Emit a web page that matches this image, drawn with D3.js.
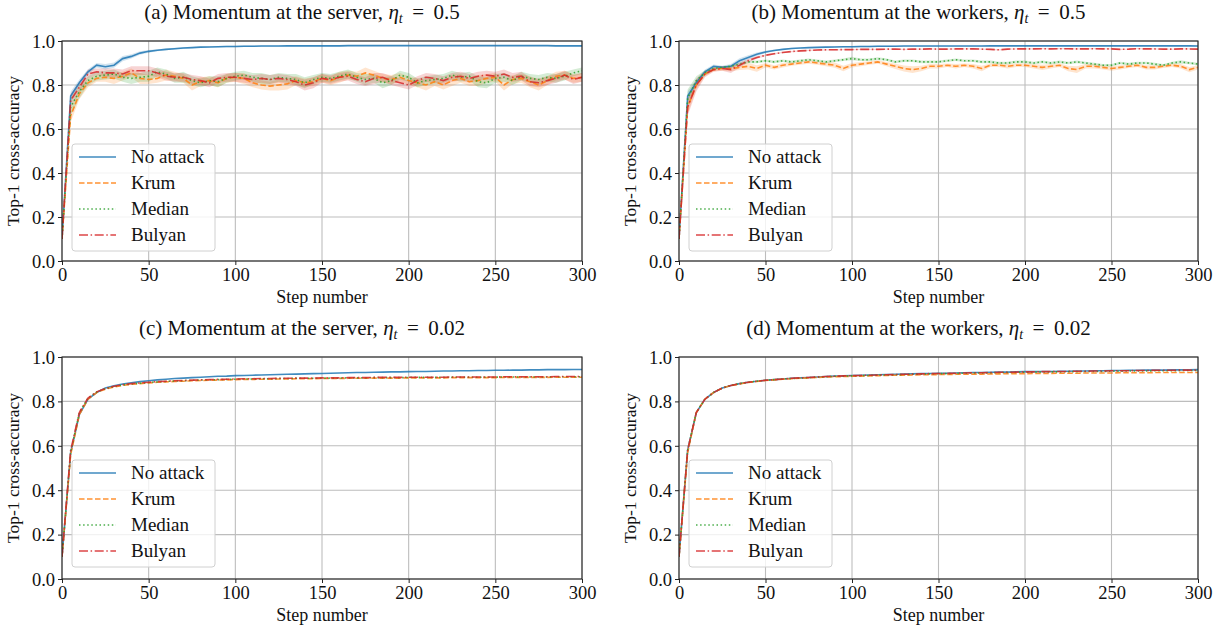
<!DOCTYPE html>
<html><head><meta charset="utf-8">
<script src="https://cdn.jsdelivr.net/npm/d3@7"></script>
<style>
body{margin:0;background:#fff;}
svg{display:block;}
text{font-family:"Liberation Serif","Times New Roman",serif;fill:#111;}
</style></head>
<body><svg id="chart" width="1213" height="625"></svg>
<script>
// ---------------- DATA ----------------
const steps = [0,5,10,15,20,25,30,35,40,45,50,55,60,65,70,75,80,85,90,95,100,105,110,115,120,125,130,135,140,145,150,155,160,165,170,175,180,185,190,195,200,205,210,215,220,225,230,235,240,245,250,255,260,265,270,275,280,285,290,295,300];
const seriesNames = ["No attack","Krum","Median","Bulyan"];
const panelTitles = ["(a) Momentum at the server, ","(b) Momentum at the workers, ","(c) Momentum at the server, ","(d) Momentum at the workers, "];
const panelEta = ["0.5","0.5","0.02","0.02"];
const xTicks = [0,50,100,150,200,250,300];
const yTicks = [0.0,0.2,0.4,0.6,0.8,1.0];

// Panel (a)
const noneA = [0.10,0.75,0.81,0.86,0.89,0.883,0.89,0.92,0.93,0.945,
 0.953,0.958,0.962,0.965,0.968,0.97,0.972,0.973,0.974,0.975,
 0.975,0.976,0.976,0.977,0.977,0.977,0.978,0.978,0.978,0.978,
 0.978,0.978,0.978,0.979,0.979,0.979,0.979,0.979,0.979,0.979,
 0.979,0.979,0.979,0.979,0.979,0.979,0.979,0.979,0.979,0.979,
 0.979,0.979,0.979,0.979,0.979,0.979,0.979,0.978,0.978,0.978,
 0.978];
const noneAStd = [0,0.02,0.015,0.012,0.01,0.012,0.012,0.012,0.01,0.008,
 0.006,0.005,0.004,0.004,0.004,0.003,0.003,0.003,0.003,0.003,
 0.003,0.003,0.003,0.003,0.003,0.003,0.003,0.003,0.003,0.003,
 0.003,0.003,0.003,0.003,0.003,0.003,0.003,0.003,0.003,0.003,
 0.003,0.003,0.003,0.003,0.003,0.003,0.003,0.003,0.003,0.003,
 0.003,0.003,0.003,0.003,0.003,0.003,0.003,0.003,0.003,0.003,
 0.003];
const krumA = [0.10,0.66,0.76,0.81,0.83,0.835,0.83,0.84,0.855,0.83,
 0.825,0.83,0.845,0.84,0.83,0.80,0.815,0.82,0.81,0.83,
 0.835,0.83,0.81,0.80,0.795,0.80,0.805,0.82,0.81,0.815,
 0.83,0.82,0.835,0.845,0.84,0.855,0.845,0.83,0.825,0.835,
 0.82,0.81,0.80,0.815,0.80,0.82,0.83,0.815,0.82,0.83,
 0.835,0.80,0.825,0.83,0.815,0.80,0.82,0.84,0.845,0.83,
 0.835];
const krumAStd = [0,0.03,0.025,0.02,0.015,0.02,0.025,0.02,0.02,0.025,
 0.02,0.02,0.025,0.02,0.02,0.025,0.02,0.02,0.02,0.02,
 0.02,0.025,0.02,0.02,0.02,0.025,0.025,0.02,0.02,0.02,
 0.02,0.02,0.025,0.02,0.02,0.025,0.02,0.02,0.02,0.02,
 0.02,0.02,0.025,0.02,0.02,0.025,0.02,0.02,0.025,0.02,
 0.02,0.025,0.02,0.02,0.025,0.025,0.02,0.02,0.02,0.02,
 0.02];
const medianA = [0.10,0.70,0.77,0.82,0.84,0.845,0.85,0.835,0.83,0.835,
 0.84,0.86,0.85,0.83,0.835,0.82,0.81,0.82,0.815,0.83,
 0.84,0.845,0.835,0.83,0.825,0.835,0.83,0.825,0.81,0.825,
 0.835,0.83,0.84,0.85,0.835,0.825,0.83,0.81,0.82,0.845,
 0.835,0.81,0.82,0.825,0.83,0.845,0.835,0.84,0.815,0.81,
 0.83,0.835,0.82,0.84,0.83,0.825,0.835,0.83,0.84,0.855,
 0.865];
const medianAStd = [0,0.04,0.03,0.02,0.02,0.02,0.02,0.02,0.025,0.02,
 0.025,0.02,0.02,0.02,0.025,0.02,0.02,0.02,0.025,0.02,
 0.02,0.02,0.02,0.025,0.02,0.02,0.02,0.025,0.025,0.02,
 0.02,0.02,0.02,0.02,0.02,0.025,0.02,0.025,0.02,0.02,
 0.02,0.02,0.02,0.02,0.02,0.02,0.02,0.02,0.025,0.025,
 0.02,0.02,0.02,0.02,0.02,0.02,0.02,0.02,0.02,0.015,
 0.015];
const bulyanA = [0.10,0.73,0.79,0.85,0.86,0.855,0.855,0.85,0.865,0.865,
 0.865,0.855,0.84,0.835,0.835,0.825,0.82,0.81,0.83,0.835,
 0.835,0.83,0.825,0.83,0.825,0.83,0.825,0.815,0.80,0.81,
 0.83,0.825,0.835,0.84,0.825,0.815,0.83,0.835,0.82,0.81,
 0.80,0.82,0.835,0.83,0.82,0.835,0.84,0.83,0.84,0.845,
 0.84,0.85,0.835,0.84,0.815,0.81,0.82,0.83,0.845,0.825,
 0.835];
const bulyanAStd = [0,0.03,0.025,0.02,0.015,0.02,0.02,0.02,0.02,0.02,
 0.02,0.02,0.02,0.02,0.02,0.02,0.02,0.02,0.02,0.02,
 0.02,0.02,0.02,0.02,0.02,0.02,0.02,0.02,0.025,0.025,
 0.02,0.02,0.02,0.02,0.02,0.02,0.025,0.02,0.02,0.02,
 0.02,0.02,0.02,0.02,0.02,0.02,0.02,0.02,0.02,0.02,
 0.02,0.02,0.02,0.02,0.02,0.02,0.02,0.02,0.02,0.02,
 0.02];

// Panel (b)
const noneB = [0.10,0.75,0.81,0.86,0.885,0.88,0.885,0.91,0.925,0.94,
 0.95,0.957,0.962,0.966,0.968,0.97,0.971,0.972,0.973,0.974,
 0.974,0.975,0.975,0.976,0.976,0.976,0.977,0.977,0.977,0.977,
 0.977,0.977,0.977,0.977,0.977,0.977,0.978,0.978,0.978,0.978,
 0.978,0.978,0.978,0.978,0.978,0.978,0.978,0.978,0.978,0.978,
 0.978,0.978,0.978,0.978,0.978,0.978,0.978,0.978,0.978,0.978,
 0.977];
const noneBStd = [0,0.02,0.015,0.01,0.008,0.008,0.01,0.012,0.01,0.008,
 0.006,0.004,0.003,0.003,0.003,0.003,0.003,0.003,0.003,0.003,
 0.003,0.003,0.003,0.003,0.003,0.003,0.003,0.003,0.003,0.003,
 0.003,0.003,0.003,0.003,0.003,0.003,0.003,0.003,0.003,0.003,
 0.003,0.003,0.003,0.003,0.003,0.003,0.003,0.003,0.003,0.003,
 0.003,0.003,0.003,0.003,0.003,0.003,0.003,0.003,0.003,0.003,
 0.003];
const krumB = [0.10,0.70,0.80,0.85,0.87,0.875,0.875,0.88,0.885,0.875,
 0.89,0.88,0.89,0.895,0.90,0.905,0.90,0.895,0.89,0.875,
 0.89,0.895,0.90,0.905,0.895,0.885,0.875,0.87,0.875,0.885,
 0.885,0.89,0.885,0.89,0.885,0.875,0.89,0.89,0.885,0.89,
 0.89,0.885,0.88,0.885,0.89,0.875,0.87,0.885,0.885,0.88,
 0.875,0.88,0.885,0.89,0.88,0.88,0.885,0.89,0.885,0.87,
 0.88];
const krumBStd = [0,0.03,0.02,0.01,0.008,0.01,0.012,0.012,0.015,0.015,
 0.01,0.01,0.01,0.008,0.008,0.008,0.008,0.01,0.012,0.012,
 0.01,0.01,0.008,0.008,0.01,0.012,0.014,0.015,0.012,0.01,
 0.01,0.008,0.01,0.008,0.01,0.012,0.008,0.008,0.01,0.008,
 0.008,0.01,0.012,0.01,0.008,0.012,0.015,0.01,0.01,0.01,
 0.01,0.01,0.008,0.008,0.01,0.01,0.008,0.008,0.01,0.012,
 0.01];
const medianB = [0.10,0.74,0.82,0.855,0.875,0.88,0.885,0.895,0.905,0.905,
 0.91,0.905,0.91,0.905,0.91,0.915,0.91,0.905,0.91,0.915,
 0.92,0.915,0.915,0.92,0.915,0.905,0.91,0.91,0.905,0.905,
 0.905,0.91,0.915,0.91,0.91,0.905,0.905,0.90,0.90,0.905,
 0.905,0.90,0.905,0.90,0.905,0.90,0.905,0.90,0.895,0.89,
 0.89,0.90,0.895,0.90,0.90,0.895,0.89,0.90,0.905,0.90,
 0.895];
const medianBStd = [0,0.04,0.02,0.012,0.008,0.006,0.006,0.006,0.006,0.006,
 0.006,0.006,0.006,0.006,0.006,0.006,0.006,0.006,0.006,0.006,
 0.008,0.006,0.006,0.006,0.006,0.006,0.006,0.006,0.006,0.006,
 0.006,0.006,0.006,0.006,0.006,0.006,0.006,0.006,0.006,0.006,
 0.006,0.006,0.006,0.006,0.006,0.006,0.006,0.006,0.006,0.006,
 0.006,0.006,0.006,0.006,0.006,0.006,0.006,0.006,0.008,0.006,
 0.006];
const bulyanB = [0.10,0.70,0.80,0.85,0.87,0.875,0.87,0.89,0.91,0.925,
 0.935,0.942,0.948,0.952,0.955,0.957,0.959,0.96,0.96,0.961,
 0.961,0.962,0.962,0.962,0.963,0.963,0.962,0.963,0.963,0.964,
 0.963,0.963,0.964,0.964,0.964,0.963,0.962,0.96,0.963,0.964,
 0.964,0.964,0.965,0.964,0.965,0.965,0.964,0.964,0.965,0.964,
 0.964,0.962,0.963,0.965,0.964,0.964,0.963,0.963,0.964,0.964,
 0.963];
const bulyanBStd = [0,0.04,0.03,0.015,0.01,0.01,0.015,0.012,0.008,0.006,
 0.004,0.003,0.003,0.003,0.003,0.003,0.003,0.003,0.003,0.003,
 0.003,0.003,0.003,0.003,0.003,0.003,0.003,0.003,0.003,0.003,
 0.003,0.003,0.003,0.003,0.003,0.003,0.003,0.003,0.003,0.003,
 0.003,0.003,0.003,0.003,0.003,0.003,0.003,0.003,0.003,0.003,
 0.003,0.003,0.003,0.003,0.003,0.003,0.003,0.003,0.003,0.003,
 0.003];

// Panel (c)
const noneC = [0.10,0.57,0.74,0.81,0.84,0.86,0.87,0.878,0.884,0.889,
 0.893,0.897,0.90,0.903,0.905,0.907,0.909,0.911,0.913,0.914,
 0.916,0.917,0.918,0.919,0.92,0.921,0.922,0.923,0.924,0.925,
 0.926,0.927,0.928,0.929,0.93,0.93,0.931,0.932,0.933,0.933,
 0.934,0.935,0.935,0.936,0.937,0.937,0.938,0.938,0.939,0.939,
 0.94,0.94,0.941,0.941,0.942,0.942,0.943,0.943,0.943,0.944,
 0.944];
const krumC = [0.10,0.56,0.74,0.81,0.84,0.855,0.865,0.872,0.877,0.88,
 0.883,0.886,0.888,0.89,0.891,0.893,0.894,0.895,0.896,0.897,
 0.898,0.899,0.899,0.90,0.90,0.901,0.901,0.902,0.902,0.902,
 0.903,0.903,0.903,0.904,0.904,0.904,0.905,0.905,0.905,0.905,
 0.906,0.906,0.906,0.906,0.906,0.907,0.907,0.907,0.907,0.907,
 0.907,0.908,0.908,0.908,0.908,0.908,0.908,0.909,0.909,0.909,
 0.909];
const medianC = [0.10,0.57,0.75,0.815,0.842,0.857,0.867,0.874,0.879,0.882,
 0.885,0.888,0.89,0.892,0.893,0.895,0.896,0.897,0.898,0.899,
 0.90,0.901,0.901,0.902,0.902,0.903,0.903,0.904,0.904,0.904,
 0.905,0.905,0.905,0.906,0.906,0.906,0.907,0.907,0.907,0.907,
 0.908,0.908,0.908,0.908,0.908,0.909,0.909,0.909,0.909,0.909,
 0.909,0.91,0.91,0.91,0.91,0.91,0.91,0.911,0.911,0.911,
 0.911];
const bulyanC = [0.10,0.58,0.75,0.815,0.843,0.858,0.868,0.875,0.88,0.883,
 0.886,0.889,0.891,0.893,0.894,0.896,0.897,0.898,0.899,0.90,
 0.901,0.902,0.902,0.903,0.903,0.904,0.904,0.905,0.905,0.905,
 0.906,0.906,0.906,0.907,0.907,0.907,0.908,0.908,0.908,0.908,
 0.909,0.909,0.909,0.909,0.909,0.91,0.91,0.91,0.91,0.91,
 0.91,0.911,0.911,0.911,0.911,0.911,0.911,0.912,0.912,0.912,
 0.912];

// Panel (d)
const noneD = [0.10,0.58,0.75,0.81,0.84,0.86,0.872,0.88,0.886,0.891,
 0.895,0.898,0.901,0.904,0.906,0.908,0.91,0.912,0.914,0.915,
 0.917,0.918,0.919,0.92,0.921,0.922,0.923,0.924,0.925,0.926,
 0.927,0.927,0.928,0.929,0.93,0.93,0.931,0.932,0.932,0.933,
 0.934,0.934,0.935,0.935,0.936,0.936,0.937,0.937,0.938,0.938,
 0.939,0.939,0.94,0.94,0.941,0.941,0.941,0.942,0.942,0.942,
 0.943];
const krumD = [0.10,0.57,0.75,0.81,0.84,0.86,0.871,0.879,0.885,0.89,
 0.894,0.897,0.90,0.902,0.904,0.906,0.908,0.91,0.911,0.912,
 0.913,0.914,0.915,0.916,0.917,0.918,0.918,0.919,0.92,0.92,
 0.921,0.921,0.922,0.922,0.923,0.923,0.924,0.924,0.925,0.925,
 0.925,0.926,0.926,0.926,0.927,0.927,0.927,0.928,0.928,0.928,
 0.928,0.929,0.929,0.929,0.929,0.93,0.93,0.93,0.93,0.93,
 0.93];
const medianD = [0.10,0.58,0.75,0.81,0.84,0.86,0.872,0.88,0.886,0.891,
 0.895,0.898,0.901,0.903,0.905,0.907,0.909,0.911,0.913,0.914,
 0.915,0.916,0.917,0.918,0.919,0.92,0.921,0.922,0.923,0.924,
 0.925,0.925,0.926,0.927,0.928,0.928,0.929,0.93,0.93,0.931,
 0.931,0.932,0.932,0.933,0.933,0.934,0.934,0.935,0.935,0.935,
 0.936,0.936,0.937,0.937,0.937,0.938,0.938,0.938,0.939,0.939,
 0.939];
const bulyanD = [0.10,0.58,0.75,0.81,0.84,0.86,0.872,0.88,0.886,0.891,
 0.895,0.898,0.901,0.904,0.906,0.908,0.91,0.912,0.913,0.915,
 0.916,0.917,0.918,0.919,0.92,0.921,0.922,0.923,0.924,0.925,
 0.926,0.926,0.927,0.928,0.929,0.929,0.93,0.931,0.931,0.932,
 0.933,0.933,0.934,0.934,0.935,0.935,0.936,0.936,0.937,0.937,
 0.938,0.938,0.938,0.939,0.939,0.94,0.94,0.94,0.941,0.941,
 0.941];

// ---------------- CHART ----------------
const colors = ["#1f77b4","#ff7f0e","#2ca02c","#d62728"];
const dashes = [null,"5.5,2.5","1.5,2.6","9,2.6,1.5,2.6"];

const panels = [
  {title:panelTitles[0], eta:panelEta[0], x0:62, x1:582, y0:41, y1:261,
   series:[[noneA,noneAStd],[krumA,krumAStd],[medianA,medianAStd],[bulyanA,bulyanAStd]]},
  {title:panelTitles[1], eta:panelEta[1], x0:679, x1:1198, y0:41, y1:261,
   series:[[noneB,noneBStd],[krumB,krumBStd],[medianB,medianBStd],[bulyanB,bulyanBStd]]},
  {title:panelTitles[2], eta:panelEta[2], x0:62, x1:582, y0:357, y1:579,
   series:[[noneC,null],[krumC,null],[medianC,null],[bulyanC,null]]},
  {title:panelTitles[3], eta:panelEta[3], x0:679, x1:1198, y0:357, y1:579,
   series:[[noneD,null],[krumD,null],[medianD,null],[bulyanD,null]]}
];

const svg = d3.select("#chart");

panels.forEach((p, pi) => {
  const x = d3.scaleLinear().domain([0,300]).range([p.x0,p.x1]);
  const y = d3.scaleLinear().domain([0,1]).range([p.y1,p.y0]);
  const g = svg.append("g");
  const clipId = "clip" + pi;
  svg.append("clipPath").attr("id", clipId).append("rect")
    .attr("x", p.x0).attr("y", p.y0).attr("width", p.x1-p.x0).attr("height", p.y1-p.y0);

  // grid
  g.append("g").selectAll("line").data(xTicks).join("line")
    .attr("x1", d=>x(d)).attr("x2", d=>x(d)).attr("y1", p.y0).attr("y2", p.y1)
    .attr("stroke","#bdbdbd").attr("stroke-width",1.1);
  g.append("g").selectAll("line").data(yTicks).join("line")
    .attr("y1", d=>y(d)).attr("y2", d=>y(d)).attr("x1", p.x0).attr("x2", p.x1)
    .attr("stroke","#bdbdbd").attr("stroke-width",1.1);

  const plot = g.append("g").attr("clip-path", `url(#${clipId})`);
  // bands
  p.series.forEach((s, si) => {
    const [vals, std] = s;
    if (!std) return;
    const area = d3.area().x((d,i)=>x(steps[i])).y0((d,i)=>y(vals[i]-std[i])).y1((d,i)=>y(vals[i]+std[i]));
    plot.append("path").datum(vals).attr("d", area)
      .attr("fill", colors[si]).attr("fill-opacity", 0.2).attr("stroke","none");
  });
  // lines
  p.series.forEach((s, si) => {
    const [vals] = s;
    const line = d3.line().x((d,i)=>x(steps[i])).y(d=>y(d));
    plot.append("path").datum(vals).attr("d", line)
      .attr("fill","none").attr("stroke", colors[si]).attr("stroke-opacity",0.85)
      .attr("stroke-width",1.6).attr("stroke-dasharray", dashes[si]);
  });

  // axes
  const xa = g.append("g").attr("transform", `translate(0,${p.y1})`)
    .call(d3.axisBottom(x).tickValues(xTicks).tickFormat(d3.format("d")).tickSize(4).tickPadding(3));
  const ya = g.append("g").attr("transform", `translate(${p.x0},0)`)
    .call(d3.axisLeft(y).tickValues(yTicks).tickFormat(d3.format(".1f")).tickSize(4).tickPadding(3));
  [xa, ya].forEach(a => {
    a.attr("font-family", null).attr("font-size", null);
    a.select(".domain").remove();
    a.selectAll("text").style("font-family","'Liberation Serif',serif").style("font-size","18.5px").attr("fill","#111");
    a.selectAll("line").attr("stroke","#222");
  });
  ya.selectAll("text").attr("dy","0.34em");
  xa.selectAll("text").attr("dy","0.72em");

  // frame
  g.append("rect").attr("x", p.x0).attr("y", p.y0).attr("width", p.x1-p.x0).attr("height", p.y1-p.y0)
    .attr("fill","none").attr("stroke","#222").attr("stroke-width",1.1);

  // labels
  g.append("text").attr("x", (p.x0+p.x1)/2).attr("y", p.y1+42).attr("text-anchor","middle")
    .style("font-size","18px").text("Step number");
  g.append("text").attr("transform", `translate(${p.x0-43},${(p.y0+p.y1)/2}) rotate(-90)`)
    .attr("text-anchor","middle").style("font-size","17.5px").text("Top-1 cross-accuracy");

  // title
  const t = g.append("text").attr("x", (p.x0+p.x1)/2 - 20).attr("y", p.y0-22)
    .attr("text-anchor","middle").style("font-size","21px");
  t.append("tspan").text(p.title);
  t.append("tspan").attr("font-style","italic").text("η");
  t.append("tspan").attr("font-style","italic").style("font-size","14px").attr("dy",4).text("t");
  t.append("tspan").attr("dy",-4).text(" \u2009=\u2009 " + p.eta);

  // legend
  const lx = p.x0 + 10, ly = p.y0 + 103;
  const lg = g.append("g");
  lg.append("rect").attr("x", lx).attr("y", ly).attr("width", 143).attr("height", 107)
    .attr("rx",3).attr("fill","#fff").attr("fill-opacity",0.8).attr("stroke","#d0d0d0");
  seriesNames.forEach((n, i) => {
    const yy = ly + 13 + i*26;
    lg.append("line").attr("x1", lx+7).attr("x2", lx+44).attr("y1", yy).attr("y2", yy)
      .attr("stroke", colors[i]).attr("stroke-opacity",0.85).attr("stroke-width",1.6).attr("stroke-dasharray", dashes[i]);
    lg.append("text").attr("x", lx+59).attr("y", yy+6).style("font-size","19px").text(n);
  });
});
</script></body></html>
